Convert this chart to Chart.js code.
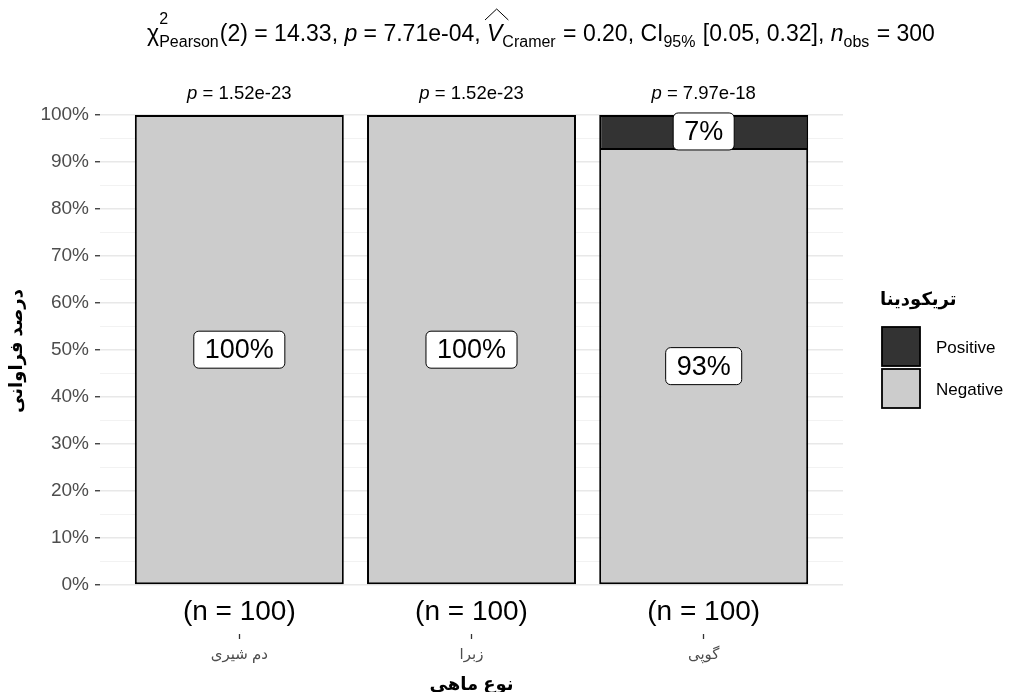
<!DOCTYPE html>
<html><head><meta charset="utf-8">
<script src="https://cdn.jsdelivr.net/npm/chart.js@4.4.1/dist/chart.umd.min.js"></script>
<style>html,body{margin:0;padding:0;background:#fff;}#wrap{width:1009px;height:692px;}</style>
</head><body><div id="wrap"><canvas id="c" width="1009" height="692"></canvas></div>
<script>
// ---- data ----
const categories = ['دم شیری', 'زبرا', 'گوپی'];
const seriesNames = ['Positive', 'Negative'];
const positiveValues = [0, 0, 7];
const negativeValues = [100, 100, 93];
const pLabels = ['1.52e-23', '1.52e-23', '7.97e-18'];
const nCounts = [100, 100, 100];
const yTickValues = [0,5,10,15,20,25,30,35,40,45,50,55,60,65,70,75,80,85,90,95,100];
const legendTitle = 'تریکودینا';
const xTitle = 'نوع ماهی';
const yTitle = 'درصد فراوانی';

const SANS = '"Liberation Sans", Arial, "DejaVu Sans", sans-serif';
const COL_POS = '#333333', COL_NEG = '#cccccc';

function font(sz, opt) { return (opt || '') + ' ' + sz + 'px ' + SANS; }

const overlayPlugin = {
  id: 'overlay',
  afterDatasetsDraw(chart) {
    const ctx = chart.ctx;
    const ys = chart.scales.y;
    ctx.save();
    chart.data.datasets.forEach((ds, di) => {
      const meta = chart.getDatasetMeta(di);
      meta.data.forEach((el, i) => {
        const v = ds.data[i].y;
        if (!v) return;
        const cx = el.x, cy = (el.y + el.base) / 2;
        const txt = Math.round(v) + '%';
        ctx.font = font(27);
        const w = ctx.measureText(txt).width + 22;
        const h = 37;
        ctx.beginPath();
        ctx.roundRect(cx - w / 2, cy - h / 2, w, h, 5);
        ctx.fillStyle = '#ffffff';
        ctx.fill();
        ctx.lineWidth = 1;
        ctx.strokeStyle = '#000';
        ctx.stroke();
        ctx.fillStyle = '#000';
        ctx.textAlign = 'center';
        ctx.textBaseline = 'middle';
        ctx.fillText(txt, cx, cy + 1);
      });
    });
    const xs = chart.scales.x;
    categories.forEach((c, i) => {
      const cx = xs.getPixelForValue(i + 1);
      const yTop = ys.getPixelForValue(100) - 21;
      ctx.textBaseline = 'middle';
      ctx.fillStyle = '#000';
      const fs = 18.5;
      ctx.font = font(fs, 'italic');
      const pw = ctx.measureText('p').width;
      ctx.font = font(fs);
      const rest = ' = ' + pLabels[i];
      const rw = ctx.measureText(rest).width;
      const x0 = cx - (pw + rw) / 2;
      ctx.textAlign = 'left';
      ctx.font = font(fs, 'italic');
      ctx.fillText('p', x0, yTop);
      ctx.font = font(fs);
      ctx.fillText(rest, x0 + pw, yTop);
      ctx.textAlign = 'center';
      ctx.font = font(28);
      ctx.fillText('(n = ' + nCounts[i] + ')', cx, ys.getPixelForValue(0) + 27);
    });
    ctx.restore();
  },
  afterDraw(chart) {
    const ctx = chart.ctx;
    ctx.save();
    ctx.fillStyle = '#000';
    ctx.textAlign = 'left';
    ctx.textBaseline = 'middle';
    ctx.font = font(18, 'bold');
    ctx.fillText(legendTitle, 880, 300);
    const cols = [COL_POS, COL_NEG];
    seriesNames.forEach((nm, i) => {
      const y = 327 + i * 42;
      ctx.fillStyle = cols[i];
      ctx.fillRect(882, y, 38, 39);
      ctx.lineWidth = 1.8;
      ctx.strokeStyle = '#000';
      ctx.strokeRect(882, y, 38, 39);
      ctx.fillStyle = '#000';
      ctx.font = font(17);
      ctx.fillText(nm, 936, y + 21);
    });
    const big = 23, small = 16;
    const segs = [
      { t: 'χ', f: font(big) },
      { sup: '2', sub: 'Pearson' },
      { t: '(2) = 14.33, ', f: font(big) },
      { t: 'p', f: font(big, 'italic') },
      { t: ' = 7.71e-04, ', f: font(big) },
      { t: 'V', f: font(big, 'italic'), hat: true },
      { sub: 'Cramer' },
      { t: ' = 0.20, CI', f: font(big) },
      { sub: '95%' },
      { t: ' [0.05, 0.32], ', f: font(big) },
      { t: 'n', f: font(big, 'italic') },
      { sub: 'obs' },
      { t: ' = 300', f: font(big) }
    ];
    let total = 0;
    segs.forEach(s => {
      if (s.t) { ctx.font = s.f; s.w = ctx.measureText(s.t).width; }
      else {
        ctx.font = font(small);
        const a = s.sup ? ctx.measureText(s.sup).width : 0;
        const b = s.sub ? ctx.measureText(s.sub).width : 0;
        s.w = Math.max(a, b) + 1;
      }
      total += s.w;
    });
    let x = 541 - total / 2;
    const base = 41;
    ctx.textBaseline = 'alphabetic';
    ctx.textAlign = 'left';
    ctx.fillStyle = '#000';
    segs.forEach(s => {
      if (s.t) {
        ctx.font = s.f;
        ctx.fillText(s.t, x, base);
        if (s.hat) {
          ctx.beginPath();
          ctx.moveTo(x - 2, base - 21);
          ctx.lineTo(x + s.w / 2 + 2, base - 32);
          ctx.lineTo(x + s.w + 6, base - 21);
          ctx.lineWidth = 1;
          ctx.strokeStyle = '#000';
          ctx.stroke();
        }
      } else {
        ctx.font = font(small);
        if (s.sup) ctx.fillText(s.sup, x, base - 17);
        if (s.sub) ctx.fillText(s.sub, x, base + 6);
      }
      x += s.w;
    });
    ctx.restore();
  }
};

new Chart(document.getElementById('c'), {
  type: 'bar',
  data: {
    datasets: [
      {
        label: seriesNames[1],
        data: categories.map((c, i) => ({ x: i + 1, y: negativeValues[i] })),
        backgroundColor: COL_NEG, borderColor: '#000', borderWidth: 2, borderSkipped: false
      },
      {
        label: seriesNames[0],
        data: categories.map((c, i) => ({ x: i + 1, y: positiveValues[i] })),
        backgroundColor: COL_POS, borderColor: '#000', borderWidth: 2, borderSkipped: 'bottom'
      }
    ]
  },
  options: {
    responsive: false,
    animation: false,
    events: [],
    categoryPercentage: 1.0,
    barPercentage: 0.9,
    layout: { padding: { top: 68, right: 166, bottom: 0, left: 0 } },
    plugins: { legend: { display: false }, tooltip: { enabled: false }, title: { display: false } },
    scales: {
      x: {
        type: 'linear', min: 0.4, max: 3.6, stacked: true, offset: false,
        afterBuildTicks: s => { s.ticks = categories.map((c, i) => ({ value: i + 1 })); },
        afterFit: s => { s.height = 58; },
        border: { display: false },
        grid: { offset: false, drawOnChartArea: false, tickColor: '#333', tickLength: 5, tickWidth: 1.3 },
        ticks: {
          autoSkip: false, maxRotation: 0, padding: 7,
          color: '#4d4d4d', font: { size: 15, family: SANS },
          callback: v => categories[Math.round(v) - 1] || ''
        },
        title: { display: true, text: xTitle, color: '#000', font: { size: 18, weight: 'bold', family: SANS }, padding: { top: 0, bottom: -4 } }
      },
      y: {
        type: 'linear', min: -10.4, max: 110, stacked: true,
        afterBuildTicks: s => { s.ticks = yTickValues.map(v => ({ value: v })); },
        afterFit: s => { s.width = 100; },
        border: { display: false },
        grid: {
          color: c => (c.tick && c.tick.value % 10 === 0) ? '#e8e8e8' : '#f2f2f2',
          lineWidth: c => (c.tick && c.tick.value % 10 === 0) ? 1.5 : 1,
          tickColor: c => (c.tick && c.tick.value % 10 === 0) ? '#333' : 'rgba(0,0,0,0)',
          tickLength: 5, tickWidth: 1.3
        },
        ticks: {
          autoSkip: false, padding: 6, color: '#4d4d4d', font: { size: 19, family: SANS },
          callback: v => (v % 10 === 0) ? v + '%' : ''
        },
        title: { display: true, text: yTitle, color: '#000', font: { size: 18, weight: 'bold', family: SANS }, padding: { top: 6, bottom: 0 } }
      }
    }
  },
  plugins: [overlayPlugin]
});
</script></body></html>
